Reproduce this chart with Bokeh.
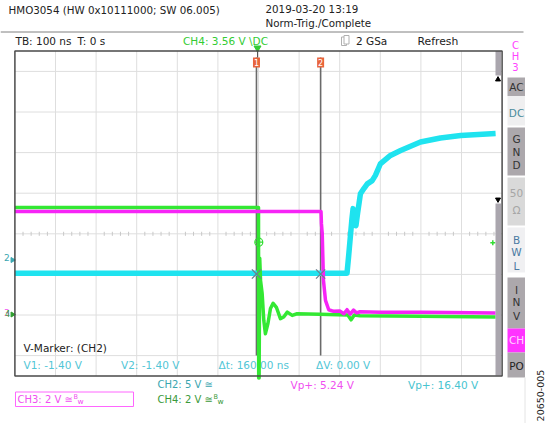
import numpy as np
from bokeh.plotting import figure
from bokeh.models import Range1d
from bokeh.core.properties import value
from bokeh.embed import file_html
from bokeh.resources import INLINE

# ---------------- data (time in ns, level in screen divisions) ----------------
t_ch2 = [-600, 218, 222, 226, 230, 233, 237, 240, 244, 251, 260, 268, 280, 288,
         300, 325, 350, 399, 448, 498, 584]
v_ch2 = [-0.97, -0.97, -0.55, -0.1, 0.35, 0.62, 0.35, 0.2, 0.5, 0.985, 1.12, 1.23,
         1.31, 1.44, 1.72, 1.93, 2.05, 2.26, 2.36, 2.42, 2.47]

t_ch3 = [-600, 154, 155, 157, 160, 165, 173, 185, 200, 210, 218, 226, 234, 242,
         250, 300, 400, 584]
v_ch3 = [0.55, 0.55, 0.25, 0.0, -1.15, -1.64, -1.87, -1.91, -1.90, -1.97, -1.87,
         -1.98, -1.88, -1.95, -1.92, -1.93, -1.93, -1.95]

t_ch4 = [-600, 0, 0.5, 1.5, 3, 5, 9, 13, 17, 23, 29.5, 36, 44, 54, 62, 71, 83, 95,
         150, 220, 228, 236, 250, 400, 584]
v_ch4 = [0.65, 0.65, -3.55, -3.55, -0.6, -1.15, -1.47, -2.13, -2.46, -2.22, -1.84,
         -1.71, -1.81, -2.09, -2.05, -1.93, -2.01, -1.97, -1.98, -2.0, -2.12, -2.0,
         -2.02, -2.03, -2.05]

cursor_t = [-5, 153]
cursor_v = -0.99
grid_t = [-500, -400, -300, -200, -100, 0, 100, 200, 300, 400, 500]
grid_v = [-3, -2, -1, 0, 1, 2, 3, 4]

header_left = "HMO3054 (HW 0x10111000; SW 06.005)"
header_date = "2019-03-20 13:19"
header_mode = "Norm-Trig./Complete"

# ---------------- layout helpers ----------------
W, H = 548, 423
DIV = 40.6
CX, CY = 258.0, 233.3
NS = 100.0


def X(px):
    return (px - CX) / DIV * NS


def Y(py):
    return (CY - py) / DIV


p = figure(width=W, height=H, x_range=Range1d(X(0), X(W)), y_range=Range1d(Y(H), Y(0)),
           output_backend="svg", toolbar_location=None, min_border=0,
           x_axis_location=None, y_axis_location=None)
p.grid.visible = False
p.outline_line_color = None
p.background_fill_color = "white"
p.border_fill_color = "white"

FONT = value("DejaVu Sans")


def txt(px, py, s, color="#222222", size=10.5, align="left", angle=0.0):
    p.text(x=[X(px)], y=[Y(py)], text=[s], text_color=color, text_font=FONT,
           text_font_size=f"{size}px", text_align=align, text_baseline="middle",
           angle=angle)


def box(x0, x1, y0, y1, fill, line=None, lw=1):
    p.quad(left=[X(x0)], right=[X(x1)], top=[Y(y0)], bottom=[Y(y1)],
           fill_color=fill, line_color=line, line_width=lw)


# graticule extents
T0, T1 = -600, 600
V0, V1 = -3.5, 4.5

# grid lines
p.segment(x0=grid_t, x1=grid_t, y0=[V0] * len(grid_t), y1=[V1] * len(grid_t),
          line_color="#dedede", line_width=1)
p.segment(x0=[T0] * len(grid_v), x1=[T1] * len(grid_v), y0=grid_v, y1=grid_v,
          line_color="#dedede", line_width=1)
# minor ticks on centre line
ticks = [t for t in np.arange(-600, 601, 20) if t % 100 != 0]
p.segment(x0=ticks, x1=ticks, y0=[-0.05] * len(ticks), y1=[0.05] * len(ticks),
          line_color="#c8c8c8", line_width=1)

# header
txt(8, 9, header_left, size=10.3)
txt(265, 8, header_date, size=10.3)
txt(265, 22.5, header_mode, size=10.3)
p.segment(x0=[X(0)], x1=[X(523)], y0=[Y(31.5)], y1=[Y(31.5)], line_color="#808080",
          line_width=1)
txt(15, 40.5, "TB: 100 ns", size=10.5)
txt(77, 40.5, "T: 0 s", size=10.5)
txt(182.5, 40.5, "CH4: 3.56 V \\DC", color="#33cc33", size=10.5)
# acquisition icon
box(341, 346, 36.5, 45, None, "#b0b0b0", 1)
box(343.5, 348.5, 35, 43.5, "white", "#b0b0b0", 1)
txt(355.5, 40.5, "2 GSa", size=10.5)
txt(417, 40.5, "Refresh", size=10.8)

# measurement texts inside graticule
txt(23, 347, "V-Marker: (CH2)", size=10.5)
MC = "#52c6d6"
txt(23, 364.5, "V1: -1.40 V", color=MC, size=10.5)
txt(120.5, 364.5, "V2: -1.40 V", color=MC, size=10.5)
txt(218, 364.5, "\u0394t: 160.00 ns", color=MC, size=10.5)
txt(315.5, 364.5, "\u0394V: 0.00 V", color=MC, size=10.5)

# cursor lines
for ct in cursor_t:
    p.segment(x0=[ct], x1=[ct], y0=[Y(57)], y1=[-3.0], line_color="#6a6a6a",
              line_width=1.6)

# traces
p.line(t_ch2, v_ch2, line_color="#1fe3ef", line_width=5.5, line_join="round")
p.line(t_ch4, v_ch4, line_color="#33e833", line_width=3.5, line_join="round")
p.line(t_ch3, v_ch3, line_color="#f624f6", line_width=3.5, line_join="round")

# cursor crossings
p.scatter(x=cursor_t, y=[cursor_v] * 2, marker="x", size=13, line_color="#6d8090",
          line_width=1.3)
# trigger marker on CH4
p.scatter(x=[X(258.3)], y=[Y(241.7)], marker="circle_cross", size=8,
          fill_color=None, line_color="#33dd33", line_width=1.2)
p.scatter(x=[X(492.3)], y=[Y(242.3)], marker="cross", size=5, line_color="#33dd33",
          line_width=1.5)

# cursor top markers
for ct, lab in zip(cursor_t, ["1", "2"]):
    px = CX + ct / NS * DIV
    box(px - 3.5, px + 3.5, 57, 67, "#e8643c", None)
    txt(px, 62.3, lab, color="white", size=8, align="center")
# trigger position marker
p.scatter(x=[X(257)], y=[Y(47.5)], marker="inverted_triangle", size=7,
          fill_color="#33cc33", line_color="#33cc33")
p.segment(x0=[X(257)], x1=[X(257)], y0=[Y(50)], y1=[Y(57)], line_color="#555555",
          line_width=1)

# left channel markers
txt(3.5, 256.5, "2", color="#3aa6b0", size=9)
p.scatter(x=[X(12)], y=[Y(259.5)], marker="triangle", angle=-np.pi / 2, size=5,
          fill_color="#3aa6b0", line_color="#3aa6b0")
txt(3.5, 312, "3", color="#f050f0", size=9)
txt(4.5, 313, "4", color="#2e9e2e", size=8)
p.scatter(x=[X(12)], y=[Y(314)], marker="triangle", angle=-np.pi / 2, size=5,
          fill_color="#2e9e2e", line_color="#2e9e2e")

# side scroll bar
box(495, 500.5, 50.6, 75, "#aaa6ae", None)
box(495, 500.5, 203, 375, "#aaa6ae", None)
p.scatter(x=[X(497.5)], y=[Y(79)], marker="triangle", size=5, fill_color="black",
          line_color="black")
p.scatter(x=[X(497.5)], y=[Y(199)], marker="inverted_triangle", size=5,
          fill_color="black", line_color="black")

# graticule frame
p.quad(left=[T0], right=[T1], top=[V1], bottom=[V0], fill_color=None,
       line_color="#4a4a4a", line_width=1.5)

# channel labels below graticule
txt(157, 384, "CH2: 5 V \u2245", color="#3aa6b0", size=10)
txt(157, 399, "CH4: 2 V \u2245", color="#3a9a3a", size=10)
txt(213, 396.5, "B", color="#3a9a3a", size=6.5)
txt(217, 400.5, "w", color="#3a9a3a", size=7.5)
box(15, 133, 391.5, 406, None, "#ff66ff", 1)
txt(17, 399, "CH3: 2 V \u2245", color="#f050f0", size=10)
txt(73, 396.5, "B", color="#f050f0", size=6.5)
txt(77, 400.5, "w", color="#f050f0", size=7.5)
txt(290, 384, "Vp+: 5.24 V", color="#f050f0", size=10.5)
txt(407.5, 384, "Vp+: 16.40 V", color="#48c4d0", size=10.5)

# right side menu
for py, ch in [(45, "C"), (55.5, "H"), (66, "3")]:
    txt(515, py, ch, color="#ff44ff", size=10, align="center")
GRAY = "#aca8ac"
buttons = [
    (77, 95.5, GRAY, "#333333", [("AC", 86)]),
    (95.5, 125, "#efeff0", "#4a8c9c", [("DC", 112.5)]),
    (127, 175, GRAY, "#333333", [("G", 138.3), ("N", 151), ("D", 164)]),
    (177, 225, "#d9d9d9", "#a6a6a6", [("50", 192.5), ("\u03a9", 209.5)]),
    (227, 272, "#f0f0f2", "#4a7aa2", [("B", 239.3), ("W", 251.7), ("L", 265)]),
    (277, 328, GRAY, "#333333", [("I", 289), ("N", 301), ("V", 315)]),
    (328, 352, "#ff33ff", "#ffd6ff", [("CH", 339.5)]),
    (352, 377, GRAY, "#222222", [("PO", 365)]),
]
for y0, y1, bg, fg, labels in buttons:
    box(507, 524.5, y0, y1, bg, None)
    for s, py in labels:
        txt(516, py, s, color=fg, size=10.5, align="center")
p.segment(x0=[X(524.5)], x1=[X(524.5)], y0=[Y(377)], y1=[Y(423)], line_color="#e4e4e4",
          line_width=1)

# figure code
txt(540, 395, "20650-005", color="#222222", size=9.5, align="center", angle=np.pi / 2)

open("out.html", "w").write(file_html(p, INLINE))
